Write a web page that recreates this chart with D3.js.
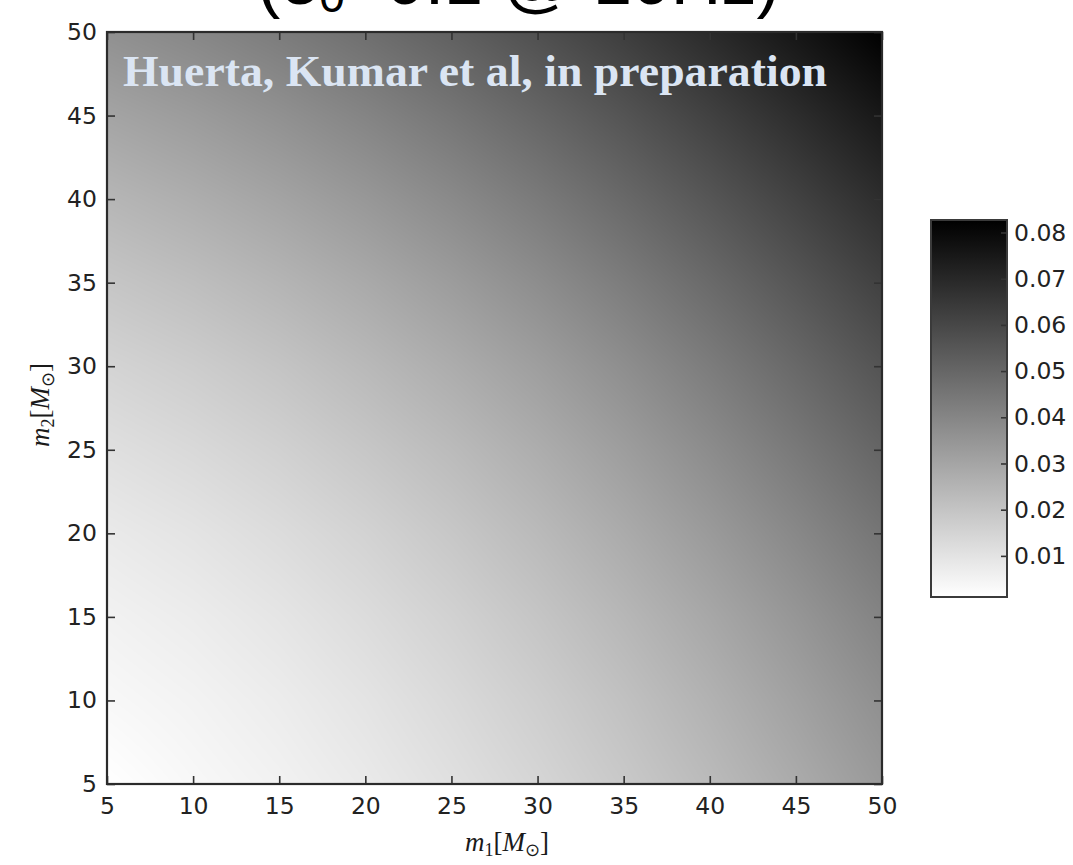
<!DOCTYPE html>
<html>
<head>
<meta charset="utf-8">
<script src="https://cdn.jsdelivr.net/npm/d3@7"></script>
<style>
  body { margin: 0; background: #ffffff; }
  svg { display: block; }
</style>
</head>
<body>
<svg id="chart" width="1073" height="865"></svg>
<script>
// Component masses on the grid (solar masses)
const m1Values = [5, 10, 15, 20, 25, 30, 35, 40, 45, 50];
const m2Values = [5, 10, 15, 20, 25, 30, 35, 40, 45, 50];

// Eccentricity on the (m1, m2) grid: one row per m2 value, one column per m1 value
const eccentricity = [
  [0.0011, 0.0034, 0.0054, 0.0079, 0.0110, 0.0145, 0.0185, 0.0230, 0.0280, 0.0335],
  [0.0034, 0.0050, 0.0071, 0.0098, 0.0131, 0.0168, 0.0210, 0.0258, 0.0311, 0.0368],
  [0.0054, 0.0071, 0.0094, 0.0123, 0.0157, 0.0197, 0.0242, 0.0292, 0.0347, 0.0407],
  [0.0079, 0.0098, 0.0123, 0.0153, 0.0190, 0.0232, 0.0280, 0.0333, 0.0391, 0.0453],
  [0.0112, 0.0133, 0.0159, 0.0192, 0.0229, 0.0273, 0.0323, 0.0379, 0.0440, 0.0505],
  [0.0150, 0.0172, 0.0200, 0.0235, 0.0275, 0.0320, 0.0372, 0.0430, 0.0493, 0.0560],
  [0.0195, 0.0219, 0.0249, 0.0285, 0.0327, 0.0375, 0.0429, 0.0488, 0.0552, 0.0620],
  [0.0245, 0.0272, 0.0304, 0.0342, 0.0386, 0.0436, 0.0492, 0.0552, 0.0616, 0.0684],
  [0.0302, 0.0330, 0.0364, 0.0404, 0.0450, 0.0502, 0.0558, 0.0619, 0.0684, 0.0752],
  [0.0365, 0.0395, 0.0431, 0.0473, 0.0520, 0.0573, 0.0630, 0.0692, 0.0758, 0.0827]
];

const axisTicks = [5, 10, 15, 20, 25, 30, 35, 40, 45, 50];
const colorbarTicks = [0.01, 0.02, 0.03, 0.04, 0.05, 0.06, 0.07, 0.08];
const creditText = "Huerta, Kumar et al, in preparation";

const svg = d3.select("#chart");

// Plot geometry
const plot = { left: 107, right: 882, top: 32, bottom: 784 };
const x = d3.scaleLinear().domain(d3.extent(m1Values)).range([plot.left, plot.right]);
const y = d3.scaleLinear().domain(d3.extent(m2Values)).range([plot.bottom, plot.top]);

// Grey colour map: low values white, high values black
const extent = d3.extent(eccentricity.flat());
const shade = d3.scaleLinear().domain(extent).range([255, 0]).clamp(true);

// Fractional grid index for a mass value
const gi = d3.scaleLinear().domain(m1Values).range(d3.range(m1Values.length)).clamp(true);
const gj = d3.scaleLinear().domain(m2Values).range(d3.range(m2Values.length)).clamp(true);

function sample(m1, m2) {
  const fi = gi(m1), fj = gj(m2);
  const i = Math.min(Math.floor(fi), m1Values.length - 2);
  const j = Math.min(Math.floor(fj), m2Values.length - 2);
  const t = fi - i, u = fj - j;
  const a = eccentricity[j][i], b = eccentricity[j][i + 1];
  const c = eccentricity[j + 1][i], d = eccentricity[j + 1][i + 1];
  return (a * (1 - t) + b * t) * (1 - u) + (c * (1 - t) + d * t) * u;
}

// Raster of the field
const pw = Math.round(plot.right - plot.left);
const ph = Math.round(plot.bottom - plot.top);
const canvas = document.createElement("canvas");
canvas.width = pw; canvas.height = ph;
const ctx = canvas.getContext("2d");
const img = ctx.createImageData(pw, ph);
for (let py = 0; py < ph; py++) {
  const m2 = y.invert(plot.top + py + 0.5);
  for (let px = 0; px < pw; px++) {
    const m1 = x.invert(plot.left + px + 0.5);
    const g = Math.round(shade(sample(m1, m2)));
    const k = (py * pw + px) * 4;
    img.data[k] = g; img.data[k + 1] = g; img.data[k + 2] = g; img.data[k + 3] = 255;
  }
}
ctx.putImageData(img, 0, 0);

svg.append("image")
  .attr("x", plot.left).attr("y", plot.top)
  .attr("width", pw).attr("height", ph)
  .attr("preserveAspectRatio", "none")
  .attr("href", canvas.toDataURL());

// Credit line inside the plot
svg.append("text")
  .attr("x", 123).attr("y", 86)
  .attr("font-family", "Liberation Serif, Times New Roman, serif")
  .attr("font-weight", "bold")
  .attr("font-size", 44)
  .attr("fill", "#dbe5f3")
  .attr("textLength", 704)
  .attr("lengthAdjust", "spacingAndGlyphs")
  .text(creditText);

// Axes with inward ticks
const tickFont = "DejaVu Sans, Verdana, sans-serif";
function styleAxis(g) {
  g.select(".domain").remove();
  g.selectAll(".tick line").attr("stroke", "#333").attr("stroke-width", 1.6);
  g.selectAll(".tick text").attr("font-family", tickFont).attr("font-size", 23.5).attr("fill", "#222");
}

svg.append("g").attr("transform", `translate(0,${plot.bottom})`)
  .call(d3.axisBottom(x).tickValues(axisTicks).tickSize(-8).tickPadding(13).tickFormat(d3.format("d")))
  .call(styleAxis);
svg.append("g").attr("transform", `translate(0,${plot.top})`)
  .call(d3.axisTop(x).tickValues(axisTicks).tickSize(-8).tickFormat(""))
  .call(styleAxis);
svg.append("g").attr("transform", `translate(${plot.left},0)`)
  .call(d3.axisLeft(y).tickValues(axisTicks).tickSize(-8).tickPadding(10).tickFormat(d3.format("d")))
  .call(styleAxis);
svg.append("g").attr("transform", `translate(${plot.right},0)`)
  .call(d3.axisRight(y).tickValues(axisTicks).tickSize(-8).tickFormat(""))
  .call(styleAxis);

// Plot frame
svg.append("rect")
  .attr("x", plot.left).attr("y", plot.top)
  .attr("width", plot.right - plot.left).attr("height", plot.bottom - plot.top)
  .attr("fill", "none").attr("stroke", "#2b2b2b").attr("stroke-width", 2.2);

// Axis labels (math style)
const mathFont = "Liberation Serif, Times New Roman, serif";
function massLabel(sel, idx) {
  sel.attr("font-family", mathFont).attr("font-size", 27).attr("fill", "#1a1a1a");
  sel.append("tspan").attr("font-style", "italic").text("m");
  sel.append("tspan").attr("font-size", 18).attr("dy", 5).text(idx);
  sel.append("tspan").attr("dy", -5).text("[");
  sel.append("tspan").attr("font-style", "italic").text("M");
  sel.append("tspan").attr("font-size", 18).attr("dy", 5).text("\u2299");
  sel.append("tspan").attr("dy", -5).text("]");
}
svg.append("text")
  .attr("x", 507).attr("y", 851)
  .attr("text-anchor", "middle")
  .call(massLabel, "1");
svg.append("text")
  .attr("transform", `translate(49,405) rotate(-90)`)
  .attr("text-anchor", "middle")
  .call(massLabel, "2");

// Colorbar
const cb = { left: 931, right: 1007, top: 220, bottom: 597 };
const cbScale = d3.scaleLinear().domain(extent).range([cb.bottom, cb.top]);
const grad = svg.append("defs").append("linearGradient")
  .attr("id", "cbGrad").attr("x1", 0).attr("y1", 1).attr("x2", 0).attr("y2", 0);
extent.forEach((v, i) => {
  const g = Math.round(shade(v));
  grad.append("stop").attr("offset", i).attr("stop-color", d3.rgb(g, g, g));
});
svg.append("rect")
  .attr("x", cb.left).attr("y", cb.top)
  .attr("width", cb.right - cb.left).attr("height", cb.bottom - cb.top)
  .attr("fill", "url(#cbGrad)");
svg.append("g").attr("transform", `translate(${cb.right},0)`)
  .call(d3.axisRight(cbScale).tickValues(colorbarTicks).tickSize(-6).tickPadding(7).tickFormat(d3.format(".2f")))
  .call(styleAxis);
svg.append("rect")
  .attr("x", cb.left).attr("y", cb.top)
  .attr("width", cb.right - cb.left).attr("height", cb.bottom - cb.top)
  .attr("fill", "none").attr("stroke", "#3a3a3a").attr("stroke-width", 2);

// Headline, running off the top edge
const head = svg.append("text")
  .attr("x", 257).attr("y", 4)
  .attr("font-family", "Liberation Sans, Arial, Helvetica, sans-serif")
  .attr("font-size", 70)
  .attr("fill", "#000");
head.append("tspan").text("(e");
head.append("tspan").attr("font-size", 46).attr("dy", 8).text("0");
head.append("tspan").attr("dy", -8).text("~0.1 @ 10Hz)");
</script>
</body>
</html>
